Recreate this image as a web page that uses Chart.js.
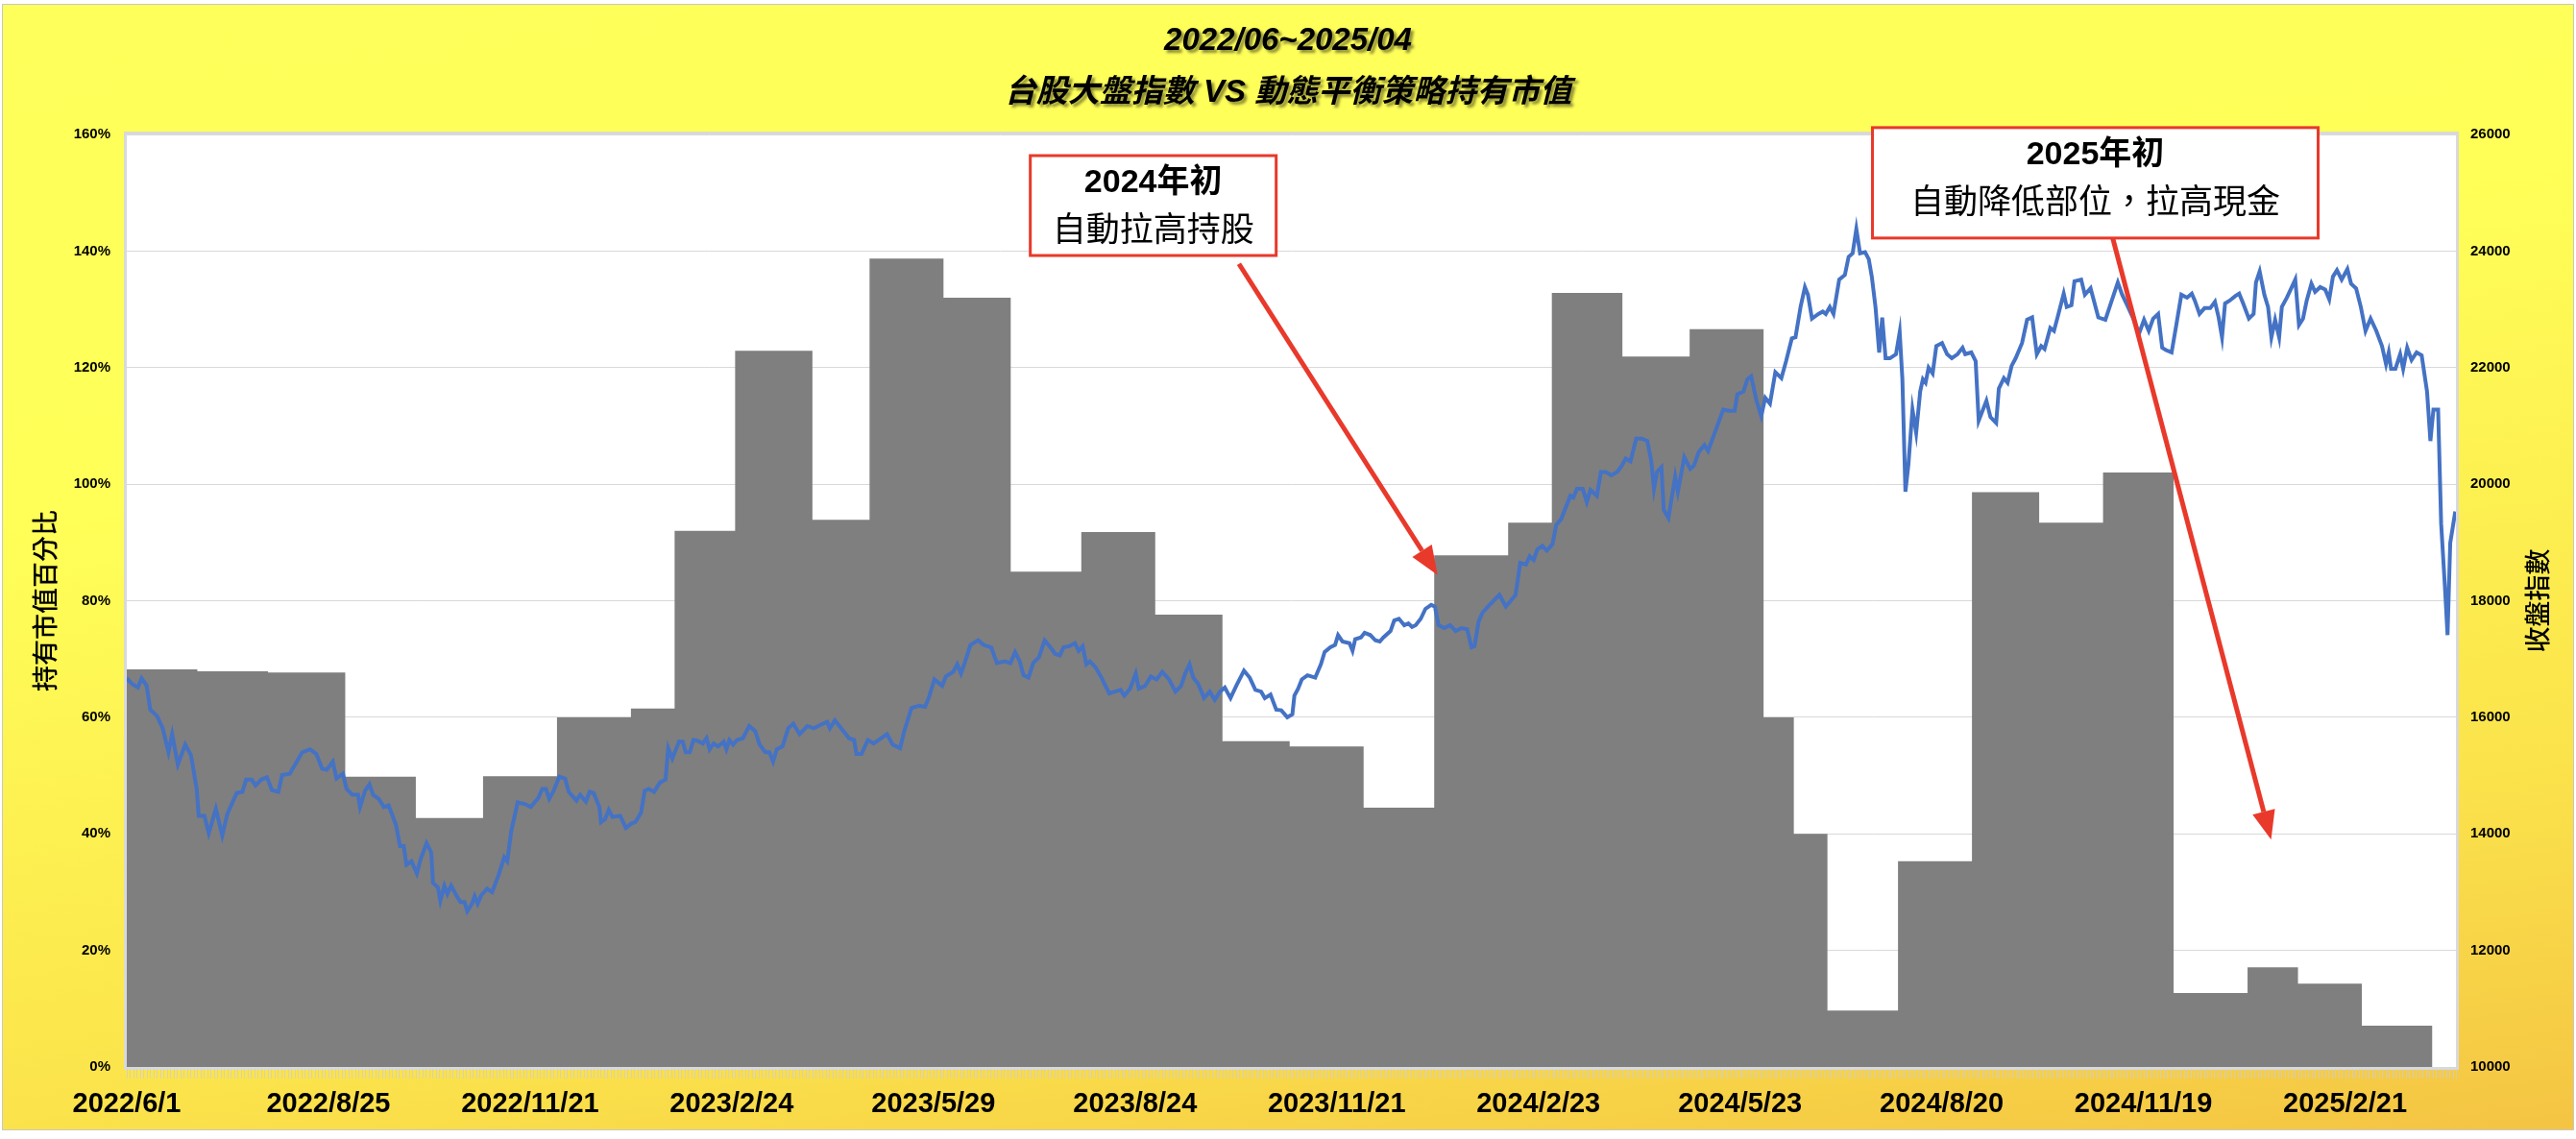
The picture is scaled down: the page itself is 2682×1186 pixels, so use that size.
<!DOCTYPE html>
<html>
<head>
<meta charset="utf-8">
<script src="https://cdn.jsdelivr.net/npm/chart.js@4.4.1/dist/chart.umd.min.js"></script>
<style>
  html, body { margin: 0; padding: 0; background: #fff; }
  #wrap { position: absolute; left: 3px; top: 5px; width: 2676px; height: 1171px; }
  #chart {
    display: block;
    background: linear-gradient(172deg, #ffff5b 0%, #ffff58 35%, #fbe34b 75%, #f4c443 100%);
    outline: 1px solid #c8c8c8;
  }
</style>
</head>
<body>
<div id="wrap"><canvas id="chart" width="2676" height="1171"></canvas></div>
<script>
// x axis = trading day index from 2022/6/1
const tickDays = [0, 60, 120, 180, 240, 300, 360, 420, 480, 540, 600, 660];
const tickLabels = ['2022/6/1', '2022/8/25', '2022/11/21', '2023/2/24', '2023/5/29', '2023/8/24',
  '2023/11/21', '2024/2/23', '2024/5/23', '2024/8/20', '2024/11/19', '2025/2/21'];

// holding value % (one block per month, June 2024 split in two)
const holdStart = [0, 21, 42, 65, 86, 106, 128, 150, 163, 181, 204, 221, 243, 263, 284, 306, 326, 346,
  368, 389, 411, 424, 445, 465, 487, 496, 506, 527, 549, 569, 588, 609, 631, 646, 665];
const holdEnd = 686;
const holdPct = [68.2, 67.9, 67.7, 49.8, 42.7, 49.9, 60.0, 61.5, 92.0, 122.9, 93.9, 138.7, 132.0, 85.0,
  91.8, 77.6, 55.9, 55.0, 44.5, 87.8, 93.4, 132.8, 121.9, 126.6, 60.0, 40.0, 9.7, 35.3, 98.6, 93.4,
  102.0, 12.7, 17.1, 14.3, 7.1];

// TAIEX close
const lineDays = [
  0, 1.6, 3.3, 4.4, 5.9, 7.0, 9.0, 10.7, 12.4, 13.5,
  15.2, 17.4, 19.1, 20.8, 21.4, 23.1, 24.4, 26.5, 28.4, 29.9,
  32.7, 34.4, 35.5, 37.2, 38.3, 40.0, 41.7, 43.2, 45.1, 46.2,
  48.5, 49.6, 52.2, 54.5, 56.4, 58.1, 59.5, 61.3, 62.4, 64.3,
  65.4, 67.1, 68.8, 69.4, 70.9, 72.2, 73.3, 75.0, 76.5, 77.9,
  80.1, 81.3, 82.4, 83.2, 84.7, 86.3, 87.5, 89.2, 90.6, 91.1,
  92.6, 93.3, 94.5, 95.4, 96.5, 98.2, 99.3, 100.5, 101.3, 102.7,
  103.5, 104.4, 105.5, 107.2, 108.7, 110.6, 112.3, 113.2, 114.4, 116.3,
  118.5, 120.2, 122.5, 123.6, 124.7, 125.7, 127.0, 128.7, 130.4, 131.5,
  133.8, 134.9, 136.6, 137.7, 138.9, 140.6, 141.1, 142.3, 143.4, 144.5,
  146.8, 148.5, 150.2, 151.3, 153.0, 154.1, 155.3, 156.9, 158.6, 160.3,
  161.1, 162.3, 164.3, 165.4, 166.3, 167.5, 168.6, 169.7, 171.4, 172.5,
  173.4, 174.6, 175.9, 177.6, 178.4, 179.3, 180.4, 181.6, 183.3, 185.2,
  187.0, 188.3, 190.0, 191.2, 192.3, 193.4, 195.1, 196.8, 198.3, 200.2,
  202.5, 204.4, 206.4, 208.4, 209.2, 210.7, 212.6, 214.9, 216.4, 217.1,
  218.6, 220.5, 222.2, 224.5, 226.2, 227.9, 230.1, 231.3, 233.5, 235.8,
  237.5, 238.6, 240.3, 242.6, 243.7, 245.9, 247.1, 248.2, 249.3, 251.0,
  253.3, 255.0, 257.2, 258.9, 261.2, 262.9, 264.3, 265.7, 266.8, 268.3,
  269.7, 271.4, 273.1, 274.8, 276.2, 277.6, 278.7, 280.4, 282.1, 283.2,
  284.4, 285.5, 286.6, 288.3, 290.0, 292.3, 294.0, 295.7, 296.8, 298.5,
  300.2, 301.1, 303.0, 304.7, 306.4, 308.1, 310.1, 312.0, 313.7, 314.9,
  316.2, 317.3, 318.8, 320.5, 322.2, 323.7, 325.3, 326.7, 328.4, 330.1,
  332.4, 334.1, 335.8, 337.5, 338.6, 340.3, 342.0, 343.5, 345.3, 346.8,
  347.4, 348.5, 349.6, 351.3, 353.6, 355.3, 356.4, 358.1, 359.5, 360.4,
  361.7, 363.8, 364.7, 365.5, 367.2, 368.3, 370.0, 371.5, 372.8, 373.9,
  376.0, 377.1, 378.5, 380.1, 381.3, 382.4, 383.5, 385.0, 386.4, 388.1,
  389.2, 390.3, 392.0, 393.7, 395.4, 397.1, 398.8, 400.1, 401.0, 402.2,
  403.3, 405.0, 406.7, 408.4, 410.3, 411.8, 413.2, 414.6, 416.3, 417.4,
  418.6, 419.7, 421.2, 422.5, 424.2, 425.3, 426.8, 428.2, 429.5, 430.4,
  431.5, 433.2, 434.4, 435.5, 437.4, 438.6, 440.0, 441.7, 443.4, 444.5,
  446.0, 447.4, 449.1, 450.8, 452.4, 453.6, 454.4, 455.3, 456.6, 457.3,
  458.7, 460.7, 461.5, 463.4, 465.2, 466.3, 467.7, 469.4, 470.5, 472.2,
  475.0, 476.7, 478.4, 479.2, 481.0, 482.2, 483.3, 484.9, 486.3, 487.5,
  488.9, 490.5, 492.3, 493.7, 495.4, 496.5, 498.0, 499.3, 500.2, 501.4,
  503.3, 504.6, 505.5, 506.7, 507.8, 509.5, 511.2, 512.3, 513.5, 514.6,
  515.7, 517.2, 518.3, 519.2, 520.3, 521.4, 522.3, 523.3, 524.6, 526.4,
  527.5, 528.3, 529.2, 530.1, 531.3, 532.4, 533.6, 534.4, 535.2, 536.1,
  537.3, 538.4, 540.1, 541.6, 543.0, 544.7, 546.2, 547.0, 548.8, 550.1,
  551.0, 553.3, 554.5, 556.2, 557.0, 558.5, 559.6, 560.8, 562.0, 563.9,
  565.4, 566.9, 568.3, 569.6, 570.6, 572.3, 573.4, 574.6, 576.3, 577.2,
  578.6, 579.5, 581.5, 582.6, 584.3, 586.6, 588.7, 590.6, 592.4, 593.7,
  595.2, 597.0, 598.7, 600.2, 601.6, 602.9, 604.4, 605.6, 606.7, 608.4,
  609.8, 611.3, 613.0, 614.4, 615.3, 616.7, 618.2, 619.9, 621.3, 622.4,
  623.4, 624.3, 625.7, 627.4, 628.5, 629.7, 631.4, 632.8, 633.5, 634.6,
  636.0, 637.1, 638.1, 639.2, 640.4, 641.2, 642.7, 644.0, 645.2, 646.3,
  647.5, 648.6, 650.0, 651.1, 652.6, 654.1, 655.3, 656.4, 657.6, 659.0,
  660.7, 661.8, 663.3, 664.7, 666.1, 667.6, 669.3, 671.0, 672.2, 673.0,
  673.7, 675.0, 676.4, 677.3, 678.5, 679.8, 681.3, 682.8, 684.4, 685.4,
  686.3, 687.7, 688.6, 689.7, 690.5, 691.3, 692.8
];
const lineClose = [
  16670, 16570, 16510, 16670, 16540, 16130, 16020, 15810, 15400, 15710,
  15190, 15530, 15350, 14770, 14310, 14310, 14010, 14430, 13970, 14340,
  14700, 14720, 14930, 14930, 14830, 14930, 14970, 14750, 14720, 15010,
  15030, 15140, 15400, 15450, 15370, 15120, 15100, 15240, 14950, 15030,
  14770, 14670, 14670, 14460, 14740, 14850, 14670, 14600, 14460, 14490,
  14150, 13790, 13790, 13470, 13530, 13320, 13580, 13840, 13680, 13160,
  13080, 12850, 13110, 12970, 13110, 12930, 12830, 12830, 12670, 12800,
  12930, 12800, 12950, 13060, 13000, 13290, 13600, 13530, 14050, 14540,
  14510, 14460, 14620, 14770, 14770, 14600, 14740, 14980, 14950, 14720,
  14570, 14670, 14550, 14720, 14700, 14460, 14200, 14250, 14410, 14290,
  14310, 14100, 14180, 14200, 14360, 14740, 14770, 14720, 14880, 14930,
  15470, 15290, 15580, 15580, 15400, 15400, 15610, 15600, 15550, 15640,
  15450, 15550, 15500, 15580, 15450, 15610, 15530, 15610, 15640, 15850,
  15760, 15530, 15400, 15400, 15240, 15450, 15500, 15810, 15890, 15710,
  15850, 15810, 15870, 15920, 15810, 15950, 15810, 15640, 15610, 15370,
  15370, 15610, 15550, 15640, 15710, 15530, 15470, 15760, 16160, 16200,
  16180, 16330, 16650, 16540, 16700, 16780, 16910, 16750, 16930, 17240,
  17320, 17240, 17200, 16930, 16960, 16930, 17120, 16960, 16720, 16680,
  16930, 17030, 17320, 17200, 17090, 17060, 17200, 17220, 17270, 17140,
  17220, 16910, 16960, 16850, 16680, 16410, 16440, 16470, 16370, 16490,
  16750, 16490, 16540, 16700, 16650, 16780, 16650, 16440, 16540, 16750,
  16910, 16680, 16570, 16330, 16440, 16300, 16440, 16510, 16330, 16540,
  16800, 16680, 16470, 16440, 16330, 16390, 16130, 16120, 16000, 16050,
  16370, 16490, 16650, 16720, 16680, 16910, 17120, 17200, 17240, 17410,
  17300, 17270, 17140, 17340, 17370, 17450, 17410, 17320, 17300, 17370,
  17480, 17660, 17690, 17580, 17610, 17550, 17580, 17690, 17860, 17930,
  17900, 17580, 17530, 17580, 17480, 17530, 17510, 17200, 17220, 17640,
  17790, 17900, 18000, 18100, 17900, 18000, 18100, 18650, 18620, 18760,
  18700, 18880, 18940, 18860, 18970, 19300, 19400, 19610, 19800, 19770,
  19920, 19920, 19690, 19900, 19800, 20210, 20210, 20150, 20210, 20290,
  20440, 20390, 20780, 20780, 20740, 20390, 19920, 20210, 20290, 19560,
  19420, 20130, 19870, 20460, 20260, 20320, 20550, 20670, 20570, 20840,
  21280, 21260, 21260, 21540, 21590, 21800, 21850, 21430, 21170, 21480,
  21380, 21920, 21820, 22110, 22500, 22520, 23040, 23380, 23250, 22840,
  22920, 22960, 22920, 23040, 22920, 23510, 23590, 23900, 23960, 24380,
  23960, 23980, 23860, 23560, 23040, 22260, 22860, 22160, 22160, 22230,
  22610, 21800, 19870, 20340, 21280, 20880, 21590, 21800, 21740, 22000,
  21900, 22370, 22420, 22230, 22160, 22230, 22340, 22230, 22260, 22110,
  21090, 21430, 21150, 21050, 21640, 21820, 21740, 22030, 22160, 22420,
  22820, 22860, 22230, 22370, 22320, 22680, 22630, 22890, 23270, 23040,
  23070, 23480, 23510, 23250, 23360, 22860, 22820, 23150, 23460, 23250,
  23070, 22840, 22580, 22820, 22630, 22840, 22920, 22340, 22300, 22260,
  22730, 23250, 23200, 23270, 23150, 22920, 23020, 23020, 23130, 22860,
  22520, 23100, 23150, 23230, 23270, 23100, 22840, 22920, 23460, 23650,
  23250, 23040, 22520, 22820, 22520, 23040, 23200, 23360, 23510, 22730,
  22840, 23150, 23440, 23300, 23380, 23340, 23170, 23560, 23670, 23510,
  23690, 23440, 23360, 23040, 22630, 22840, 22630, 22370, 22060, 22260,
  21980, 21980, 22230, 21980, 22340, 22130, 22260, 22210, 21590, 20740,
  21280, 21280, 19320, 18260, 17410, 18990, 19530
];

if (lineDays.length !== lineClose.length) console.log('length mismatch', lineDays.length, lineClose.length);

const holdPoints = holdStart.map((d, i) => ({ x: d, y: holdPct[i] }));
holdPoints.push({ x: holdEnd, y: 0 });
const indexPoints = lineDays.map((d, i) => ({ x: d, y: lineClose[i] }));

// callouts: box centre and arrow ends in data units (day, %)
const notes = [
  { lines: ['2024年初', '自動拉高持股'], at: [305.4, 147.8], w: 256, h: 104, from: [330.9, 137.8], to: [390, 84.4] },
  { lines: ['2025年初', '自動降低部位，拉高現金'], at: [585.7, 151.7], w: 464, h: 115, from: [590.9, 142.2], to: [638, 39] }
];

const RED = '#e8392b';
const tickFont = { family: '"Liberation Sans", Arial, sans-serif', size: 15, weight: 'bold' };

function drawArrow(ctx, x1, y1, x2, y2) {
  const ang = Math.atan2(y2 - y1, x2 - x1);
  const head = 30, half = 12;
  const bx = x2 - head * Math.cos(ang), by = y2 - head * Math.sin(ang);
  ctx.beginPath();
  ctx.moveTo(x1, y1);
  ctx.lineTo(bx, by);
  ctx.stroke();
  ctx.beginPath();
  ctx.moveTo(x2, y2);
  ctx.lineTo(bx + half * Math.sin(ang), by - half * Math.cos(ang));
  ctx.lineTo(bx - half * Math.sin(ang), by + half * Math.cos(ang));
  ctx.closePath();
  ctx.fill();
}

const decor = {
  id: 'decor',
  beforeDraw(chart) {
    const { ctx, chartArea: a } = chart;
    ctx.save();
    ctx.fillStyle = '#fff';
    ctx.fillRect(a.left, a.top, a.right - a.left, a.bottom - a.top);
    ctx.restore();
  },
  afterDraw(chart) {
    const { ctx, chartArea: a } = chart;
    const xs = chart.scales.x, ys = chart.scales.yL;
    ctx.save();

    // plot frame
    ctx.strokeStyle = '#d9d9d9';
    ctx.lineWidth = 3;
    ctx.strokeRect(a.left - 1.5, a.top - 1.5, a.right - a.left + 3, a.bottom - a.top + 3);

    // category tick marks under the plot
    ctx.strokeStyle = 'rgba(205,205,205,0.75)';
    ctx.lineWidth = 1;
    ctx.beginPath();
    for (let d = 0; d <= 693; d++) {
      const x = Math.round(xs.getPixelForValue(d)) + 0.5;
      ctx.moveTo(x, a.bottom + 2);
      ctx.lineTo(x, a.bottom + 12);
    }
    ctx.stroke();

    // chart titles with shadow
    ctx.save();
    ctx.fillStyle = '#000';
    ctx.textAlign = 'center';
    ctx.textBaseline = 'middle';
    ctx.shadowColor = 'rgba(0,0,0,0.45)';
    ctx.shadowOffsetX = 3;
    ctx.shadowOffsetY = 3;
    ctx.shadowBlur = 3;
    ctx.font = 'italic bold 33px "Liberation Sans", "Noto Sans CJK TC", sans-serif';
    ctx.fillText('2022/06~2025/04', chart.width / 2, 38);
    ctx.fillText('台股大盤指數 VS 動態平衡策略持有市值', chart.width / 2, 92);
    ctx.restore();

    // axis titles
    ctx.fillStyle = '#000';
    ctx.textAlign = 'center';
    ctx.textBaseline = 'middle';
    ctx.font = '500 27px "Noto Sans CJK TC", sans-serif';
    const midY = (a.top + a.bottom) / 2;
    ctx.save();
    ctx.translate(a.left - 85, midY);
    ctx.rotate(-Math.PI / 2);
    ctx.fillText('持有市值百分比', 0, 0);
    ctx.restore();
    ctx.save();
    ctx.translate(a.right + 85, midY);
    ctx.rotate(-Math.PI / 2);
    ctx.fillText('收盤指數', 0, 0);
    ctx.restore();

    // callouts
    notes.forEach(n => {
      ctx.strokeStyle = RED;
      ctx.fillStyle = RED;
      ctx.lineWidth = 5;
      drawArrow(ctx, xs.getPixelForValue(n.from[0]), ys.getPixelForValue(n.from[1]),
        xs.getPixelForValue(n.to[0]), ys.getPixelForValue(n.to[1]));
      const cx = xs.getPixelForValue(n.at[0]), cy = ys.getPixelForValue(n.at[1]);
      const left = cx - n.w / 2, top = cy - n.h / 2;
      ctx.fillStyle = '#fff';
      ctx.fillRect(left, top, n.w, n.h);
      ctx.lineWidth = 3;
      ctx.strokeRect(left, top, n.w, n.h);
      ctx.fillStyle = '#000';
      ctx.textAlign = 'center';
      ctx.textBaseline = 'middle';
      ctx.font = 'bold 34px "Liberation Sans", "Noto Sans CJK TC", sans-serif';
      ctx.fillText(n.lines[0], cx, top + 29);
      ctx.font = '35px "Noto Sans CJK TC", sans-serif';
      ctx.fillText(n.lines[1], cx, top + 76);
    });

    ctx.restore();
  }
};

new Chart(document.getElementById('chart'), {
  type: 'line',
  data: {
    datasets: [
      {
        label: '收盤指數',
        data: indexPoints,
        yAxisID: 'yR',
        borderColor: '#4472c4',
        borderWidth: 4,
        pointRadius: 0,
        tension: 0,
        fill: false
      },
      {
        label: '持有市值百分比',
        data: holdPoints,
        yAxisID: 'yL',
        stepped: true,
        fill: 'origin',
        backgroundColor: '#7f7f7f',
        borderColor: 'rgba(0,0,0,0)',
        borderWidth: 0,
        pointRadius: 0
      }
    ]
  },
  options: {
    responsive: false,
    animation: false,
    devicePixelRatio: 1,
    layout: { padding: { top: 135, left: 0, right: 0, bottom: 0 } },
    plugins: { legend: { display: false }, tooltip: { enabled: false } },
    scales: {
      x: {
        type: 'linear',
        min: 0,
        max: 693,
        afterBuildTicks: s => { s.ticks = tickDays.map(v => ({ value: v })); },
        afterFit: s => { s.height = 65; },
        ticks: {
          autoSkip: false,
          maxRotation: 0,
          padding: 22,
          color: '#000',
          font: { family: '"Liberation Sans", Arial, sans-serif', size: 29, weight: 'bold' },
          callback: (v, i) => tickLabels[i]
        },
        grid: { display: false, drawTicks: false },
        border: { display: false }
      },
      yL: {
        position: 'left',
        min: 0,
        max: 160,
        afterFit: s => { s.width = 129; },
        ticks: { stepSize: 20, padding: 17, color: '#000', font: tickFont, callback: v => v + '%' },
        grid: { color: '#d9d9d9', lineWidth: 1, drawTicks: false },
        border: { display: false }
      },
      yR: {
        position: 'right',
        min: 10000,
        max: 26000,
        afterFit: s => { s.width = 122; },
        ticks: { stepSize: 2000, padding: 15, color: '#000', font: tickFont, callback: v => String(v) },
        grid: { display: false, drawTicks: false },
        border: { display: false }
      }
    }
  },
  plugins: [decor]
});
</script>
</body>
</html>
